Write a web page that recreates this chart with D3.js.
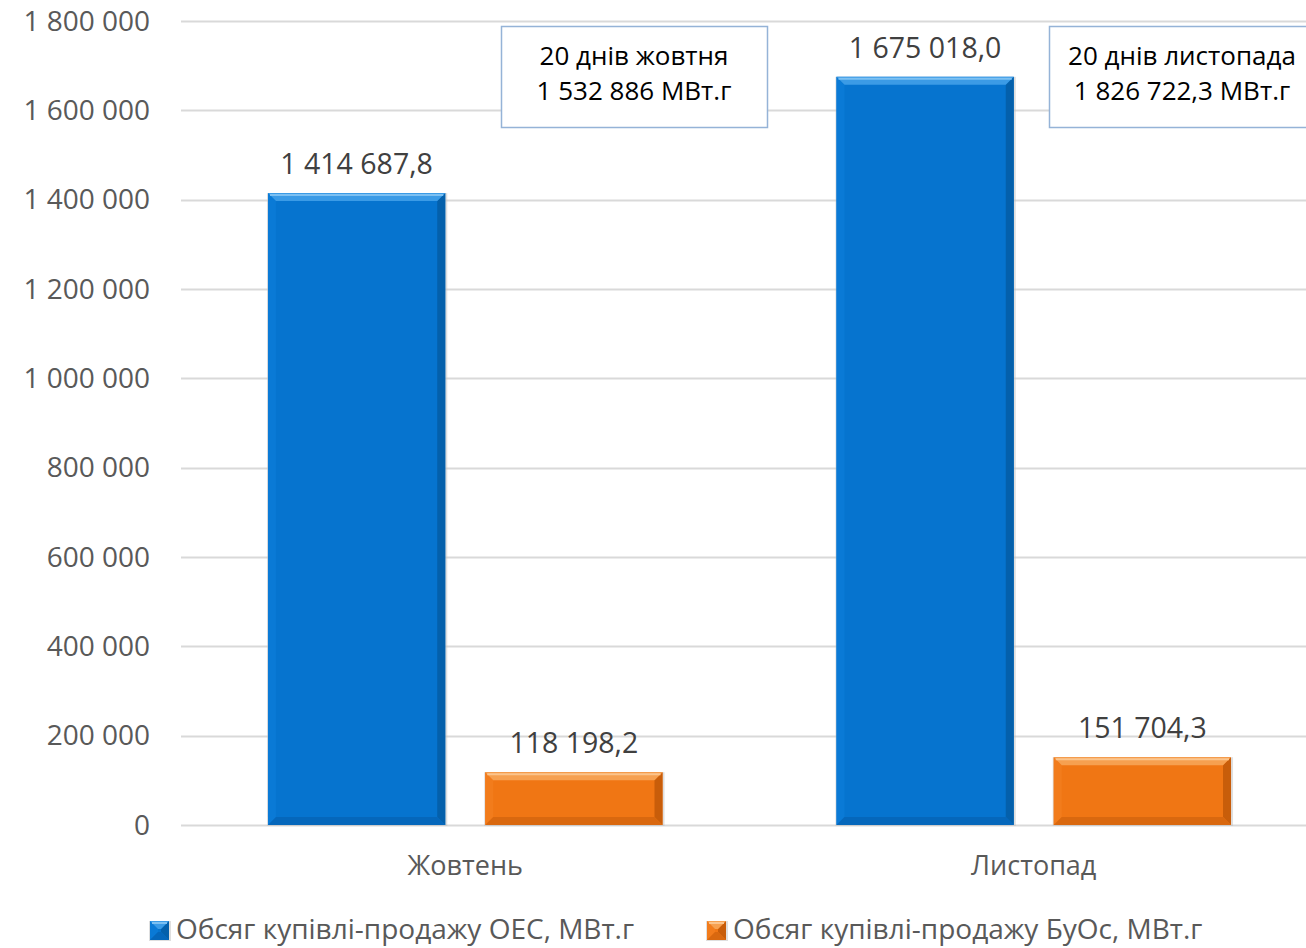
<!DOCTYPE html>
<html>
<head>
<meta charset="utf-8">
<script src="https://cdn.jsdelivr.net/npm/d3@7"></script>
<style>
  body { margin: 0; background: #fff; }
  svg { display: block; font-family: "Open Sans", sans-serif; }
</style>
</head>
<body>
<div id="chart"></div>
<script>
//////// DATA ////////
var categories = ["Жовтень", "Листопад"];
var seriesNames = ["Обсяг купівлі-продажу ОЕС, МВт.г", "Обсяг купівлі-продажу БуОс, МВт.г"];
var oesValues = [1414687.8, 1675018.0];
var buosValues = [118198.2, 151704.3];
var yTicks = [0, 200000, 400000, 600000, 800000, 1000000, 1200000, 1400000, 1600000, 1800000];
var noteLines = [["20 днів жовтня", "1 532 886 МВт.г"], ["20 днів листопада", "1 826 722,3 МВт.г"]];

var width = 1306, height = 948;

//////// COLORS ////////
var colors = [
  { main: "#0674cf", top: "#3b9be6", hi: "#7cc0f2", left: "#0a7ad6", right: "#0460ab", bottom: "#0567bb" },
  { main: "#f07614", top: "#f6a050", hi: "#fbc48c", left: "#f27c1c", right: "#c85d0a", bottom: "#d9680f" }
];

var loc = d3.formatLocale({ decimal: ",", thousands: " ", grouping: [3], currency: ["", ""] });
var fmtTick = loc.format(",d");
var fmtVal = loc.format(",.1f");

//////// SCALES ////////
var x0 = d3.scaleBand().domain(categories).range([181, 1318])
  .paddingInner(0.306).paddingOuter(0.153);
var x1 = d3.scaleBand().domain([0, 1]).range([0, x0.bandwidth()])
  .paddingInner(0.184).paddingOuter(0);
var y = d3.scaleLinear().domain([0, 1800000]).range([825, 21]);

var svg = d3.select("#chart").append("svg")
  .attr("width", width).attr("height", height);

// gridlines
svg.append("g").selectAll("line").data(yTicks).enter().append("line")
  .attr("x1", 181).attr("x2", width)
  .attr("y1", function(d) { return Math.round(y(d)) + 0.5; })
  .attr("y2", function(d) { return Math.round(y(d)) + 0.5; })
  .attr("stroke", "#d9d9d9").attr("stroke-width", 2);

// y labels
svg.append("g").selectAll("text").data(yTicks).enter().append("text")
  .attr("x", 150).attr("y", function(d) { return y(d); })
  .attr("dy", "0.35em").attr("text-anchor", "end")
  .attr("fill", "#595959").style("font-size", "28px")
  .text(function(d) { return fmtTick(d); });

//////// BARS ////////
function bevelBar(g, bx, by, bw, bh, c) {
  var b = Math.min(8, bh / 2);
  g.append("rect").attr("x", bx - 1).attr("y", by).attr("width", bw + 3).attr("height", bh + 1)
    .attr("fill", "#bfbfbf").attr("opacity", 0.5);
  g.append("rect").attr("x", bx).attr("y", by).attr("width", bw).attr("height", bh).attr("fill", c.main);
  g.append("polygon").attr("fill", c.left)
    .attr("points", [[bx, by], [bx + b, by + b], [bx + b, by + bh - b], [bx, by + bh]].join(" "));
  g.append("polygon").attr("fill", c.right)
    .attr("points", [[bx + bw, by], [bx + bw - b, by + b], [bx + bw - b, by + bh - b], [bx + bw, by + bh]].join(" "));
  g.append("polygon").attr("fill", c.bottom)
    .attr("points", [[bx, by + bh], [bx + b, by + bh - b], [bx + bw - b, by + bh - b], [bx + bw, by + bh]].join(" "));
  g.append("polygon").attr("fill", c.top)
    .attr("points", [[bx, by], [bx + bw, by], [bx + bw - b, by + b], [bx + b, by + b]].join(" "));
  g.append("line").attr("x1", bx + 2).attr("x2", bx + bw - 2).attr("y1", by + 2).attr("y2", by + 2)
    .attr("stroke", c.hi).attr("stroke-width", 2);
}

var series = [oesValues, buosValues];
var bars = svg.append("g");
var labels = svg.append("g");
categories.forEach(function(cat, i) {
  series.forEach(function(vals, s) {
    var bx = x0(cat) + x1(s), bw = x1.bandwidth();
    var by = y(vals[i]), bh = y(0) - y(vals[i]);
    bevelBar(bars.append("g"), bx, by, bw, bh, colors[s]);
    labels.append("text")
      .attr("x", bx + bw / 2).attr("y", by - 19)
      .attr("text-anchor", "middle").attr("fill", "#404040")
      .style("font-size", "28.5px")
      .text(fmtVal(vals[i]));
  });
});

// category labels
svg.append("g").selectAll("text").data(categories).enter().append("text")
  .attr("x", function(d) { return x0(d) + x0.bandwidth() / 2; })
  .attr("y", 866).attr("dy", "0.35em").attr("text-anchor", "middle")
  .attr("fill", "#595959").style("font-size", "27px")
  .text(function(d) { return d; });

//////// NOTE BOXES ////////
var noteX = [501, 1049];
noteLines.forEach(function(lines, i) {
  var g = svg.append("g");
  g.append("rect").attr("x", noteX[i] + 0.5).attr("y", 26.5).attr("width", 266).attr("height", 101)
    .attr("fill", "#fff").attr("stroke", "#95b3d7").attr("stroke-width", 1.5);
  lines.forEach(function(t, k) {
    g.append("text").attr("x", noteX[i] + 133).attr("y", 56 + k * 35).attr("dy", "0.35em")
      .attr("text-anchor", "middle").attr("fill", "#000").style("font-size", "26px").text(t);
  });
});

//////// LEGEND ////////
var legX = [150, 707];
seriesNames.forEach(function(name, s) {
  var g = svg.append("g");
  bevelBar(g, legX[s], 921, 19, 19, colors[s]);
  g.append("text").attr("x", legX[s] + 26).attr("y", 929).attr("dy", "0.35em")
    .attr("fill", "#595959").style("font-size", "28px").text(name);
});
</script>
</body>
</html>
